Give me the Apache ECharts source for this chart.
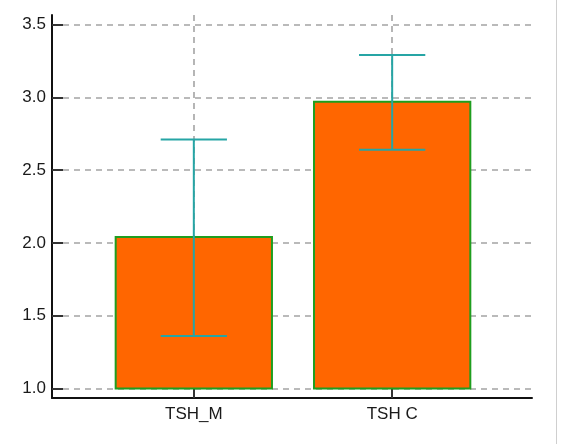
<!DOCTYPE html>
<html><head><meta charset="utf-8">
<script src="https://cdn.jsdelivr.net/npm/echarts@6/dist/echarts.min.js"></script>
<style>html,body{margin:0;padding:0;background:#fff}#c{width:571px;height:444px}#edge{position:absolute;left:556px;top:0;width:1px;height:444px;background:#cfcfcf}</style>
</head><body><div id="c"></div><div id="edge"></div>
<script>
const categories = ['TSH_M', 'TSH C'];
const categoryPositions = [1, 2];
const means = [2.04, 2.97];
const errUpper = [2.71, 3.29];
const errLower = [1.36, 2.64];
const yTicks = [1.0, 1.5, 2.0, 2.5, 3.0, 3.5];
const barBase = 1.0;

const barHalf = 0.394;
const capHalf = 0.167;

const chart = echarts.init(document.getElementById('c'), null, {renderer: 'canvas'});
const gridDash = {color: '#a4a4a4', width: 1.6, type: [6, 5]};
const font = 'Liberation Sans, Arial, sans-serif';
chart.setOption({
  animation: false,
  grid: {left: 52, right: 39, top: 15, bottom: 46, containLabel: false},
  xAxis: {
    type: 'value', min: 0.285, max: 2.705,
    axisLine: {show: true, lineStyle: {color: '#111', width: 2}},
    axisTick: {show: true, inside: true, length: 9, customValues: categoryPositions, lineStyle: {color: '#333', width: 2}},
    axisLabel: {show: true, customValues: categoryPositions, margin: 8, color: '#1a1a1a', fontSize: 17, fontFamily: font,
      formatter: v => categories[categoryPositions.indexOf(v)] || ''},
    splitLine: {show: true, lineStyle: gridDash}
  },
  yAxis: {
    type: 'value', min: 0.935, max: 3.565,
    axisLine: {show: true, lineStyle: {color: '#111', width: 2}},
    axisTick: {show: true, inside: true, length: 11, customValues: yTicks, lineStyle: {color: '#333', width: 2}},
    axisLabel: {show: true, customValues: yTicks, margin: 6, color: '#1a1a1a', fontSize: 17, fontFamily: font,
      formatter: v => v.toFixed(1)},
    splitLine: {show: true, lineStyle: gridDash}
  },
  series: [
    {
      type: 'custom', z: 2,
      data: categoryPositions.map((x, i) => [x, means[i]]),
      renderItem: (params, api) => {
        const x = api.value(0), y = api.value(1);
        const p1 = api.coord([x - barHalf, y]);
        const p2 = api.coord([x + barHalf, barBase]);
        return {type: 'rect', shape: {x: p1[0], y: p1[1], width: p2[0] - p1[0], height: p2[1] - p1[1]},
          style: {fill: '#ff6600', stroke: '#1f9e1f', lineWidth: 2}};
      }
    },
    {
      type: 'custom', z: 3,
      data: categoryPositions.map((x, i) => [x, errLower[i], errUpper[i]]),
      renderItem: (params, api) => {
        const x = api.value(0), lo = api.value(1), hi = api.value(2);
        const a = api.coord([x, lo]), b = api.coord([x, hi]);
        const la = api.coord([x - capHalf, lo]), ra = api.coord([x + capHalf, lo]);
        const lb = api.coord([x - capHalf, hi]), rb = api.coord([x + capHalf, hi]);
        const st = {stroke: '#26a5a5', lineWidth: 2};
        return {type: 'group', children: [
          {type: 'line', shape: {x1: a[0], y1: a[1], x2: b[0], y2: b[1]}, style: st},
          {type: 'line', shape: {x1: la[0], y1: la[1], x2: ra[0], y2: ra[1]}, style: st},
          {type: 'line', shape: {x1: lb[0], y1: lb[1], x2: rb[0], y2: rb[1]}, style: st}
        ]};
      }
    }
  ]
});
</script></body></html>
